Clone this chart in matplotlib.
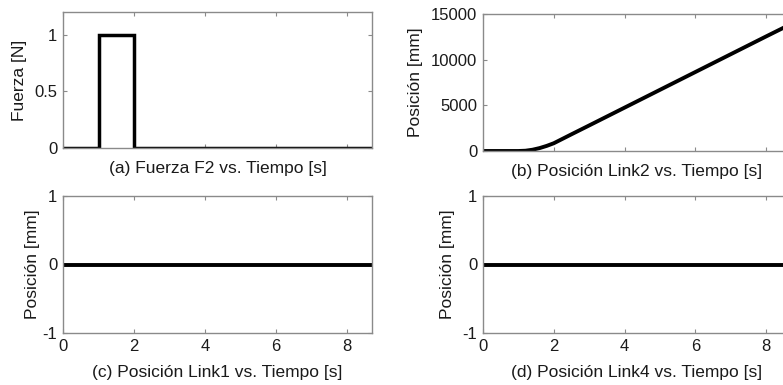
import matplotlib
matplotlib.use("Agg")
import matplotlib.pyplot as plt

plt.rcParams['font.family'] = ['Liberation Sans', 'DejaVu Sans']
plt.rcParams['axes.unicode_minus'] = False

# ---- data ----
force_t = [0.0, 1.0, 1.0, 2.0, 2.0, 8.7]
force_v = [0.0, 0.0, 1.0, 1.0, 0.0, 0.0]

link2_t = [0.0, 1.0, 1.2, 1.4, 1.6, 1.8, 2.0, 2.5, 3.0, 4.0, 5.0, 6.0, 7.0, 8.0, 8.7]
link2_v = [0, 0, 30, 140, 320, 560, 850, 1830, 2800, 4750, 6700, 8650, 10600, 12550, 13900]

link1_t = [0.0, 8.7]
link1_v = [0.0, 0.0]

link4_t = [0.0, 8.7]
link4_v = [0.0, 0.0]

xticks = [0, 2, 4, 6, 8]
xlim = (0, 8.7)

titles = ["(a) Fuerza F2 vs. Tiempo [s]",
          "(b) Posición Link2 vs. Tiempo [s]",
          "(c) Posición Link1 vs. Tiempo [s]",
          "(d) Posición Link4 vs. Tiempo [s]"]
ylabels = ["Fuerza [N]", "Posición [mm]", "Posición [mm]", "Posición [mm]"]

W, H = 783, 385
fig = plt.figure(figsize=(W / 100, H / 100), dpi=100)

def rect(l, r, t, b):
    return [l / W, (H - b) / H, (r - l) / W, (b - t) / H]

ax_a = fig.add_axes(rect(63, 372, 12, 148))
ax_b = fig.add_axes(rect(483, 791, 14, 151))
ax_c = fig.add_axes(rect(63, 372, 196, 333))
ax_d = fig.add_axes(rect(483, 791, 196, 333))

spine_col = '#8a8a8a'
txt_col = '#1a1a1a'
lw = 2.5

def style(ax, show_xticklabels):
    for s in ax.spines.values():
        s.set_color(spine_col)
        s.set_linewidth(1.0)
    ax.tick_params(direction='in', length=3, width=0.8, color=spine_col,
                   top=True, right=True, labelsize=12, labelcolor=txt_col, pad=4)
    ax.tick_params(axis='x', pad=4)
    ax.set_xlim(*xlim)
    ax.set_xticks(xticks)
    if not show_xticklabels:
        ax.set_xticklabels([])

ax_a.plot(force_t, force_v, color='black', lw=lw, solid_joinstyle='miter')
ax_a.set_ylim(0, 1.2)
ax_a.set_yticks([0, 0.5, 1])
ax_a.set_yticklabels(['0', '0.5', '1'])
style(ax_a, False)

ax_b.plot(link2_t, link2_v, color='black', lw=lw + 0.3)
ax_b.set_ylim(0, 15000)
ax_b.set_yticks([0, 5000, 10000, 15000])
style(ax_b, False)

ax_c.plot(link1_t, link1_v, color='black', lw=lw + 0.3)
ax_c.set_ylim(-1, 1)
ax_c.set_yticks([-1, 0, 1])
style(ax_c, True)

ax_d.plot(link4_t, link4_v, color='black', lw=lw + 0.3)
ax_d.set_ylim(-1, 1)
ax_d.set_yticks([-1, 0, 1])
style(ax_d, True)

axes = [ax_a, ax_b, ax_c, ax_d]
ylab_x = [-0.1165, -0.195, -0.0744, -0.091]
xlab_y = [-0.096, -0.096, -0.234, -0.234]
for ax, t, yl, lx, ly in zip(axes, titles, ylabels, ylab_x, xlab_y):
    ax.set_xlabel(t, fontsize=12.5, color=txt_col)
    ax.set_ylabel(yl, fontsize=12.5, color=txt_col)
    ax.xaxis.set_label_coords(0.5, ly)
    ax.yaxis.set_label_coords(lx, 0.5)

fig.savefig('out.png', dpi=100)
